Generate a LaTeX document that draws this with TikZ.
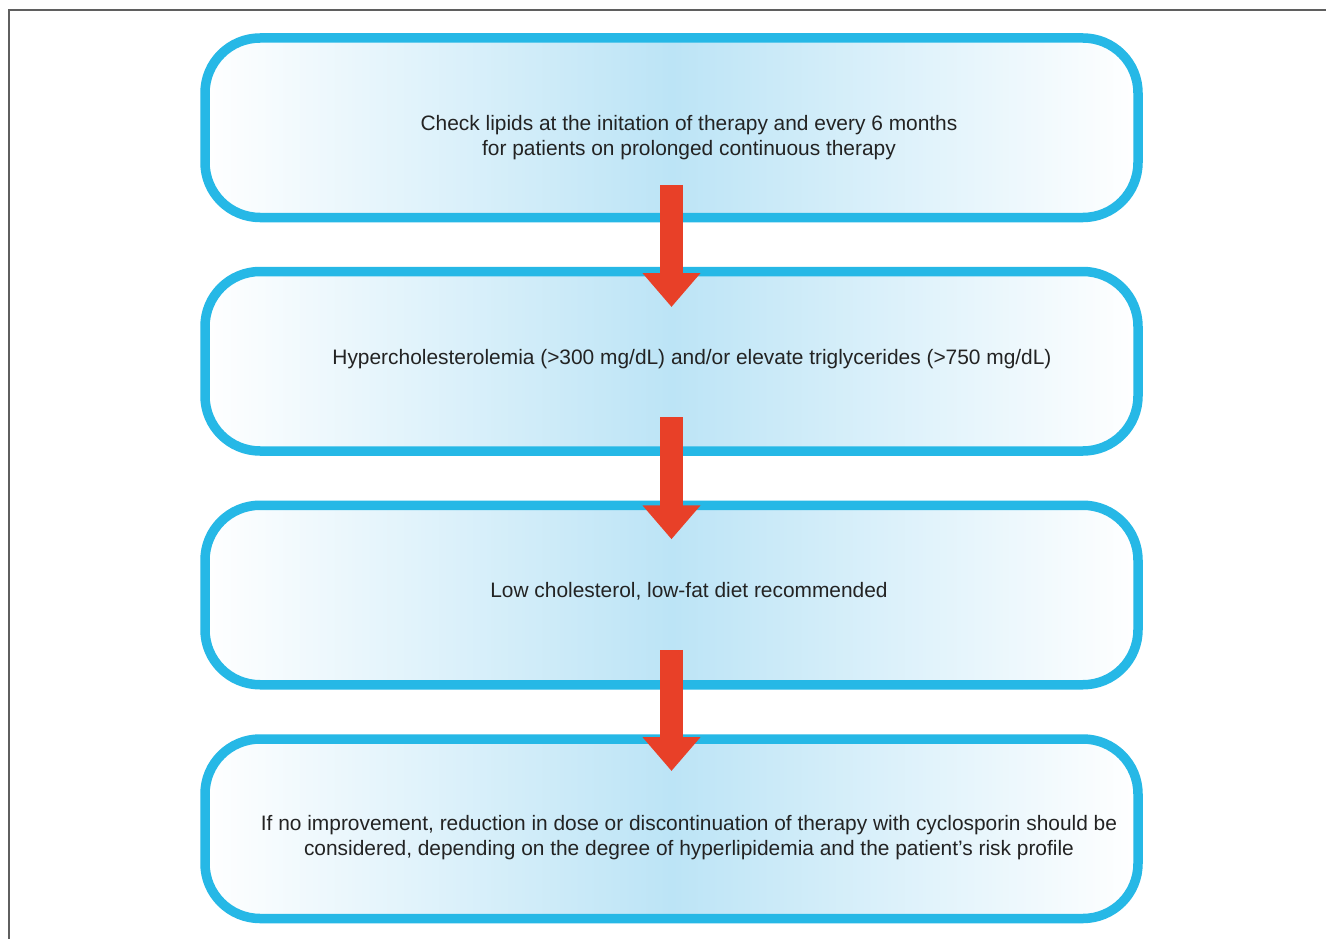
\documentclass[tikz,border=0pt]{standalone}
\usepackage{fontspec}
\setmainfont{Liberation Sans}
\usetikzlibrary{arrows.meta}
\definecolor{boxline}{RGB}{38,184,230}
\definecolor{boxfill}{RGB}{188,228,246}
\definecolor{flowred}{RGB}{232,64,40}
\definecolor{txt}{RGB}{35,35,35}
\definecolor{frame}{RGB}{95,95,95}
\tikzset{
  stepbox/.style={draw=boxline, line width=9.5pt, rounded corners=55pt,
    left color=white, right color=white, middle color=boxfill,
    minimum width=933pt, minimum height=179.5pt, inner sep=0pt, outer sep=0pt},
  lbl/.style={text=txt, align=center, font=\fontsize{20.9}{25}\selectfont, inner sep=0pt},
  flow/.style={draw=flowred, line width=23pt,
    -{Triangle[width=56pt,length=34pt,fill=flowred]}}
}
\begin{document}
\begin{tikzpicture}[x=1pt,y=-1pt]
\useasboundingbox (0,0) rectangle (1326,939);
\fill[white] (0,0) rectangle (1326,939);
\draw[frame, line width=2pt] (9,939) -- (9,10) -- (1326,10);

\node[stepbox] (b1) at (671.5,127.75) {};
\node[stepbox] (b2) at (671.5,361.25) {};
\node[stepbox] (b3) at (671.5,595) {};
\node[stepbox] (b4) at (671.5,828.75) {};

\node[lbl] (t1) at (689,137.5) {Check lipids at the initation of therapy and every 6 months\\for patients on prolonged continuous therapy};
\node[lbl] (t2) at (692,359) {Hypercholesterolemia (>300 mg/dL) and/or elevate triglycerides (>750 mg/dL)};
\node[lbl] (t3) at (689,591.5) {Low cholesterol, low-fat diet recommended};
\node[lbl] (t4) at (689,838) {If no improvement, reduction in dose or discontinuation of therapy with cyclosporin should be\\considered, depending on the degree of hyperlipidemia and the patient’s risk profile};

\draw[flow] ([yshift=32.5pt]b1.south) -- ([yshift=-35.5pt]b2.north);
\draw[flow] ([yshift=34pt]b2.south) -- ([yshift=-34pt]b3.north);
\draw[flow] ([yshift=35pt]b3.south) -- ([yshift=-32pt]b4.north);
\end{tikzpicture}
\end{document}
